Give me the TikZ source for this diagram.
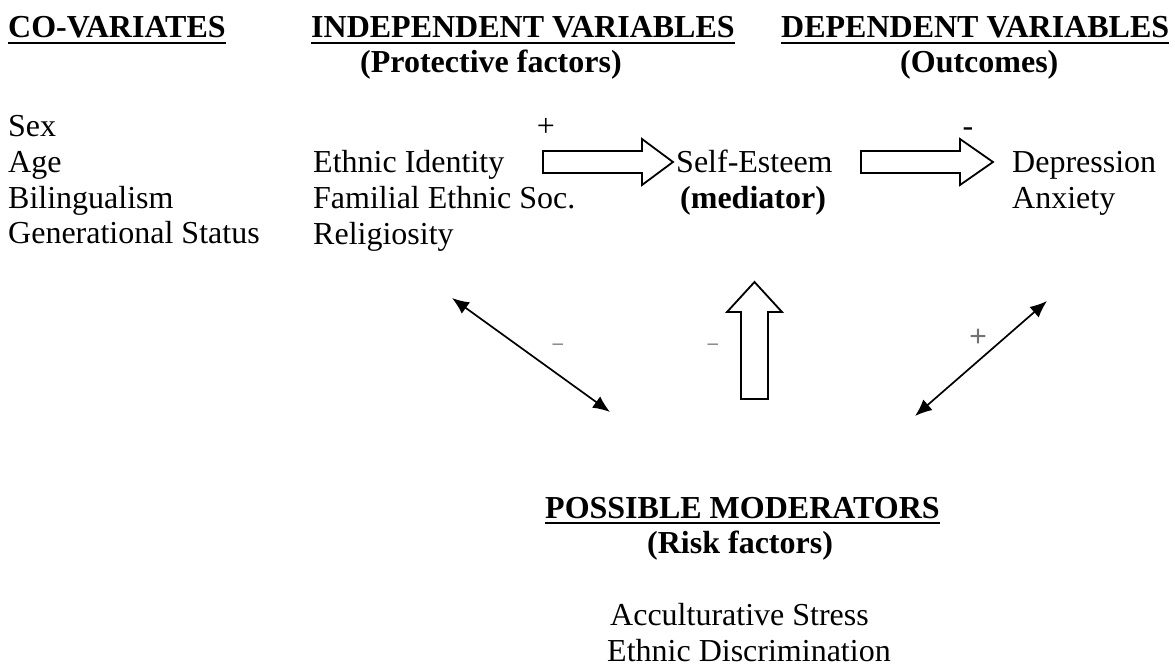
\documentclass[tikz,border=0pt]{standalone}
\usepackage{fontspec}
\setmainfont{Liberation Serif}
\newfontfamily\signfont{Liberation Sans}
\usetikzlibrary{arrows.meta}
\begin{document}
\begin{tikzpicture}[x=1pt,y=-1pt,
  txt/.style={inner sep=0pt, anchor=base west, font=\fontsize{32}{35}\selectfont},
  hdr/.style={inner sep=0pt, anchor=base west, font=\fontsize{32}{35}\selectfont\bfseries},
  uline/.style={line width=2.6pt},
  blockarrow/.style={draw=black, line width=1.8pt, fill=white, line join=miter},
  dblarrow/.style={line width=1.7pt, {Latex[length=17pt,width=14pt]}-{Latex[length=17pt,width=14pt]}},
  sign/.style={inner sep=0pt, text=black!55},
  topsign/.style={inner sep=0pt, anchor=base, font=\fontsize{32}{35}\selectfont},
]
\useasboundingbox (0,0) rectangle (1175,666);

% headers
\node[hdr] (hco) at (8,38) {CO-VARIATES};
\node[hdr] (hind) at (311,38) {INDEPENDENT VARIABLES};
\node[hdr] (hdep) at (781,38) {DEPENDENT VARIABLES};
\node[hdr] (hprot) at (360,73) {(Protective factors)};
\node[hdr] (hout) at (900,73) {(Outcomes)};
\foreach \n in {hco,hind,hdep}{
  \draw[uline] ([yshift=-5pt]\n.base west) -- ([yshift=-5pt]\n.base east);
}

% co-variates
\node[txt] (sex) at (8,137) {Sex};
\node[txt] (age) at (8,172) {Age};
\node[txt] (bil) at (8,208) {Bilingualism};
\node[txt] (gen) at (8,243) {Generational Status};

% independent variables
\node[txt] (eid) at (313,172) {Ethnic Identity};
\node[txt] (fam) at (313,208) {Familial Ethnic Soc.};
\node[txt] (rel) at (313,244) {Religiosity};

% mediator
\node[txt] (se) at (676,172) {Self-Esteem};
\node[hdr] (med) at (680,208) {(mediator)};

% outcomes
\node[txt] (dep) at (1012,172) {Depression};
\node[txt] (anx) at (1012,208) {Anxiety};

% top signs
\node[topsign] (plus1) at (546,137) {+};
\node[topsign] (minus1) at (968,137) {-};

% block arrows
\draw[blockarrow] (543,151) -- (642,151) -- (642,139) -- (673,162) -- (642,185) -- (642,173) -- (543,173) -- cycle;
\draw[blockarrow] (861,151) -- (960,151) -- (960,139) -- (993,162) -- (960,185) -- (960,173) -- (861,173) -- cycle;
\draw[blockarrow] (741,399) -- (741,312) -- (727,312) -- (754.5,282) -- (782,312) -- (768,312) -- (768,399) -- cycle;

% double arrows
\coordinate (la1) at (452,298);
\coordinate (la2) at (610,412);
\coordinate (ra1) at (915,416);
\coordinate (ra2) at (1047,301);
\draw[dblarrow] (la1) -- (la2);
\draw[dblarrow] (ra1) -- (ra2);

% small signs
\node[sign, font=\signfont\fontsize{19}{20}\selectfont] (m2) at (558,347) {–};
\node[sign, font=\signfont\fontsize{19}{20}\selectfont] (m3) at (713,347) {–};
\node[sign, font=\signfont\fontsize{30}{32}\selectfont] (p2) at (978,338) {+};

% moderators
\node[hdr] (hmod) at (545,518) {POSSIBLE MODERATORS};
\draw[uline] ([yshift=-5pt]hmod.base west) -- ([yshift=-5pt]hmod.base east);
\node[hdr] (hrisk) at (647,553) {(Risk factors)};
\node[txt] (acc) at (610,625) {Acculturative Stress};
\node[txt] (disc) at (607,661) {Ethnic Discrimination};
\end{tikzpicture}
\end{document}
